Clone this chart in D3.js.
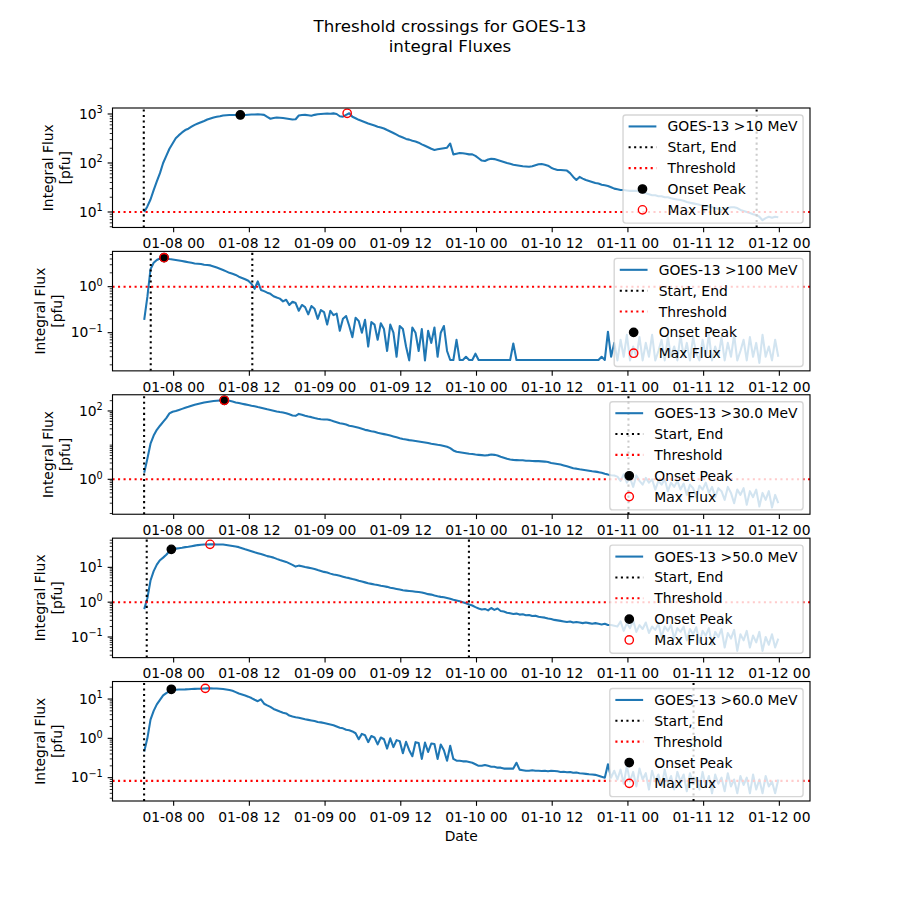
<!DOCTYPE html>
<html><head><meta charset="utf-8">
<script src="https://cdn.jsdelivr.net/npm/d3@7/dist/d3.min.js"></script>
<style>
body{margin:0;background:#fff}
text{font-family:"DejaVu Sans",sans-serif;fill:#000}
</style>
</head><body>
<svg id="c" width="900" height="900"></svg>
<script>
// ---------------- DATA ----------------
const startTime = "2014-01-07T19:20:00Z";   // first sample
const stepMinutes = 30;                     // sample spacing

const flux10 = [10,13,18,28,42,62,100,140,195,250,
320,370,420,470,500,550,600,640,680,720,
770,810,850,880,900,930,945,950,955,950,
955,960,955,965,975,980,985,975,960,870,
800,830,850,840,830,810,790,770,780,930,
950,960,940,920,960,990,1000,1010,1020,1015,
1030,1000,900,880,960,1033,880,820,760,720,
680,640,610,580,550,530,505,470,440,410,
380,350,330,310,300,285,275,260,240,225,
210,195,185,190,195,200,205,250,150,155,
160,158,155,150,150,140,125,112,110,118,
122,120,115,110,105,100,96,92,90,88,
86,85,84,86,90,94,95,92,88,80,
75,72,72,71,70,62,52,45,52,48,
45,43,41,39,38,36,35,34,32,30,
29,28,28,27.5,27,27,27,26,25,24,
23,22,22,21,21,20,20,19,18.5,18,
17.6,17,16,15.5,15,14.5,14,13.5,13,13,
12.5,12,11.5,11,11.5,12,12.5,12.5,12,11,
10.5,10,9.5,9,8.7,8,6.8,7.5,8,7.6,
8,7.8];

const flux100 = [0.19,0.6,2.4,3.3,3.8,4.1,4.3,4.2,4.0,3.9,
3.8,3.7,3.6,3.5,3.4,3.3,3.2,3.15,3.1,3.0,
2.95,2.9,2.75,2.6,2.45,2.3,2.15,2.0,1.9,1.8,
1.65,1.55,1.45,1.35,1.15,0.9,1.3,0.85,0.8,0.74,
0.7,0.62,0.58,0.55,0.48,0.52,0.4,0.47,0.44,0.3,
0.4,0.36,0.25,0.38,0.33,0.2,0.31,0.28,0.15,0.3,
0.24,0.26,0.11,0.2,0.23,0.14,0.08,0.21,0.18,0.1,
0.19,0.05,0.17,0.15,0.07,0.16,0.12,0.04,0.15,0.1,
0.03,0.14,0.12,0.05,0.025,0.13,0.1,0.04,0.12,0.025,
0.11,0.06,0.13,0.03,0.1,0.14,0.04,0.0255,0.0255,0.07,
0.0255,0.0255,0.03,0.0255,0.0255,0.035,0.0255,0.0255,0.0255,0.0255,
0.0255,0.0255,0.0255,0.0255,0.0255,0.0255,0.0255,0.058,0.0255,0.0255,
0.0255,0.0255,0.0255,0.0255,0.0255,0.0255,0.0255,0.0255,0.0255,0.0255,
0.0255,0.0255,0.0255,0.0255,0.0255,0.0255,0.0255,0.0255,0.0255,0.0255,
0.0255,0.0255,0.0255,0.0255,0.0255,0.03,0.0255,0.105,0.03,0.06,
0.025,0.07,0.03,0.09,0.025,0.05,0.03,0.08,0.025,0.06,
0.03,0.09,0.025,0.04,0.07,0.025,0.08,0.03,0.05,0.025,
0.09,0.03,0.06,0.025,0.08,0.035,0.025,0.07,0.03,0.09,
0.025,0.05,0.03,0.08,0.025,0.06,0.03,0.09,0.025,0.04,
0.07,0.025,0.08,0.03,0.06,0.022,0.09,0.03,0.05,0.025,
0.07,0.03];

const flux30 = [1.55,4.0,11,19,28,37,48,62,85,95,
100,107,115,124,132,142,152,160,168,177,
184,190,196,200,203,205,204,198,188,178,
170,163,156,150,143,137,130,124,118,112,
107,102,97,93,90,86,80,74,72,82,
78,73,69,66,62,59,57,56,56,54,
50,47,44,42,40,37,35.5,34,32,30,
28,27,25.5,24.5,23,22,21,20,19,18,
17,16,15.2,14.6,14,13.6,13.2,12.8,12.4,12,
11.5,11,10.6,10.2,9.9,9.5,9.0,8.2,7.0,6.4,
6.2,6.0,5.8,5.6,5.5,5.3,5.2,5.1,5.0,5.1,
5.3,5.2,5.0,4.6,4.3,4.0,3.8,3.7,3.65,3.6,
3.6,3.5,3.5,3.45,3.4,3.4,3.35,3.3,3.2,3.0,
2.9,2.8,2.7,2.55,2.4,2.25,2.1,2.05,1.96,1.9,
1.85,1.78,1.72,1.68,1.62,1.55,1.45,1.38,1.32,1.3,
1.2,0.9,1.4,0.8,1.1,0.6,1.3,0.9,0.7,1.1,
0.8,1.0,0.5,0.9,0.7,1.0,0.45,0.8,0.6,0.9,
0.5,0.75,0.35,0.7,0.55,0.3,0.65,0.5,0.8,0.4,
0.6,0.3,0.55,0.45,0.25,0.6,0.4,0.2,0.5,0.35,
0.55,0.18,0.45,0.3,0.5,0.16,0.4,0.25,0.45,0.15,
0.35,0.2];

const flux50 = [0.63,1.3,4.2,7.8,12,16,19,23,29,33,
34.5,35.5,36.5,38,39,40.5,42,43.5,44.5,45,
45.5,45.8,45.6,45.5,45.3,45,44,42.5,41,39.5,
38,35.5,33,31,29,27,25.5,24,22.5,21,
20,19,17.5,16.3,15.3,14.3,13,11.8,10.5,11.2,
10.8,10.2,9.8,9.4,9.0,8.4,7.9,7.4,7.1,6.6,
6.2,6.0,5.7,5.4,5.1,4.9,4.6,4.4,4.1,3.9,
3.7,3.5,3.35,3.2,3.1,2.95,2.85,2.75,2.6,2.5,
2.4,2.3,2.2,2.15,2.1,2.05,2.0,1.95,1.9,1.8,
1.7,1.65,1.55,1.48,1.42,1.38,1.32,1.25,1.18,1.12,
1.06,1.0,0.93,0.86,0.8,0.72,0.66,0.62,0.64,0.58,
0.68,0.6,0.66,0.56,0.54,0.5,0.48,0.46,0.47,0.44,
0.45,0.42,0.43,0.4,0.41,0.38,0.37,0.36,0.34,0.33,
0.31,0.3,0.29,0.28,0.27,0.28,0.26,0.27,0.26,0.25,
0.26,0.25,0.24,0.25,0.24,0.23,0.24,0.22,0.22,0.21,
0.2,0.28,0.15,0.25,0.18,0.3,0.14,0.22,0.17,0.26,
0.13,0.2,0.16,0.24,0.1,0.2,0.15,0.22,0.09,0.18,
0.14,0.2,0.08,0.17,0.12,0.19,0.07,0.15,0.11,0.18,
0.06,0.14,0.1,0.17,0.05,0.13,0.09,0.16,0.04,0.12,
0.08,0.15,0.05,0.11,0.07,0.14,0.04,0.1,0.06,0.12,
0.05,0.09];

const flux60 = [0.46,1.0,3.0,5.0,7.3,9.5,12.4,14.2,16,17,
17.2,17.4,17.5,17.6,17.8,18,18.1,18.2,18.3,18.5,
18.7,18.7,18.6,18.5,18.3,18.0,17.5,17.0,16.2,15,
13.8,13,12.3,11.5,10.6,9.6,8.8,9.8,7.6,6.9,
6.3,5.6,5.2,4.8,4.5,4.3,3.8,3.6,3.45,3.35,
3.2,3.05,2.95,2.85,2.75,2.6,2.55,2.45,2.35,2.25,
2.15,2.0,1.86,1.8,1.65,1.6,1.5,1.35,0.95,1.3,
1.2,0.8,1.15,1.05,0.7,1.05,0.95,0.55,1.0,0.6,
0.9,0.85,0.42,0.82,0.5,0.35,0.8,0.76,0.3,0.78,
0.45,0.74,0.72,0.3,0.7,0.5,0.27,0.65,0.3,0.27,
0.27,0.26,0.26,0.25,0.24,0.22,0.2,0.2,0.21,0.2,
0.19,0.19,0.18,0.18,0.17,0.17,0.17,0.17,0.24,0.16,
0.155,0.15,0.15,0.155,0.15,0.15,0.148,0.15,0.145,0.15,
0.148,0.145,0.14,0.142,0.138,0.14,0.133,0.135,0.13,0.128,
0.125,0.122,0.12,0.118,0.112,0.105,0.1,0.22,0.1,0.15,
0.09,0.16,0.07,0.2,0.08,0.14,0.06,0.17,0.09,0.13,
0.05,0.15,0.08,0.12,0.06,0.16,0.07,0.11,0.05,0.14,
0.08,0.12,0.045,0.13,0.07,0.1,0.05,0.14,0.06,0.11,
0.04,0.12,0.07,0.1,0.045,0.13,0.06,0.09,0.04,0.11,
0.065,0.1,0.04,0.12,0.05,0.09,0.04,0.11,0.06,0.08,
0.04,0.09];

const seriesLabels = ["GOES-13 >10 MeV","GOES-13 >100 MeV","GOES-13 >30.0 MeV","GOES-13 >50.0 MeV","GOES-13 >60.0 MeV"];
const seriesValues = [flux10, flux100, flux30, flux50, flux60];
const thresholds = [10, 1, 1, 1, 0.083];
const eventStart = ["2014-01-07T19:16Z","2014-01-07T20:22Z","2014-01-07T19:19Z","2014-01-07T19:44Z","2014-01-07T19:19Z"];
const eventEnd   = ["2014-01-11T20:24Z","2014-01-08T12:28Z","2014-01-11T00:05Z","2014-01-09T22:48Z","2014-01-11T10:24Z"];
const onsetTime  = ["2014-01-08T10:34Z","2014-01-07T22:29Z","2014-01-08T08:02Z","2014-01-07T23:38Z","2014-01-07T23:38Z"];
const onsetFlux  = [955, 4.27, 205, 32.9, 17.7];
const maxTime    = ["2014-01-09T03:30Z","2014-01-07T22:29Z","2014-01-08T08:02Z","2014-01-08T05:46Z","2014-01-08T05:01Z"];
const maxFlux    = [1033, 4.27, 205, 45.8, 18.7];
const yDomains   = [[4.83,1325],[0.0148,5.85],[0.095,298],[0.0256,68.9],[0.0255,27.9]];
const yMajorTicks= [[1e1,1e2,1e3],[1e-1,1e0],[1e0,1e2],[1e-1,1e0,1e1],[1e-1,1e0,1e1]];
const legendLabels = ["Start, End","Threshold","Onset Peak","Max Flux"];
const titleLines = ["Threshold crossings for GOES-13","integral Fluxes"];

// ---------------- LAYOUT ----------------
const svg = d3.select("#c");
const L = 112.5, R = 810, T = 108, axH = 119.48, gap = 23.9;
const fs = 13.89;
const blue = "#1f77b4";
const dotted = "2.08,3.44";

const t0 = Date.parse(startTime);
const nMax = d3.max(seriesValues, s => s.length);
const tEnd = t0 + (nMax - 1) * stepMinutes * 60000;
const span = tEnd - t0;
const x = d3.scaleUtc().domain([new Date(t0 - 0.05*span), new Date(tEnd + 0.05*span)]).range([L, R]);
const fmt = d3.utcFormat("%m-%d %H");
const xTicks = x.ticks(d3.utcHour.every(12));

const meas = svg.append("text").attr("font-size", fs).attr("x", -1000).attr("y", -1000);
function textW(s, size) { meas.attr("font-size", size || fs).text(s); return meas.node().getComputedTextLength(); }

titleLines.forEach((s, k) => {
  svg.append("text").attr("x", 450).attr("y", 32 + k*20).attr("text-anchor","middle")
     .attr("font-size", 16.67).text(s);
});

function supText(v) {
  const e = Math.round(Math.log10(v));
  return String(e).replace("-", "\u2212");
}

seriesValues.forEach((vals, p) => {
  const y0 = T + p*(axH + gap), y1 = y0 + axH;
  const y = d3.scaleLog().domain(yDomains[p]).range([y1, y0]);
  const g = svg.append("g");
  const clipId = "clip" + p;
  svg.append("clipPath").attr("id", clipId).append("rect")
     .attr("x", L).attr("y", y0).attr("width", R - L).attr("height", axH);
  const plot = g.append("g").attr("clip-path", `url(#${clipId})`);

  const pts = vals.map((v, i) => ({t: new Date(t0 + i*stepMinutes*60000), v}));
  plot.append("path").datum(pts)
    .attr("d", d3.line().x(d => x(d.t)).y(d => y(d.v)))
    .attr("fill","none").attr("stroke", blue).attr("stroke-width", 2.08)
    .attr("stroke-linejoin","round");

  [eventStart[p], eventEnd[p]].forEach(s => {
    const xv = x(new Date(s));
    plot.append("line").attr("x1", xv).attr("x2", xv).attr("y1", y1).attr("y2", y0)
      .attr("stroke","#000").attr("stroke-width",2.08).attr("stroke-dasharray", dotted);
  });
  plot.append("line").attr("x1", L).attr("x2", R)
      .attr("y1", y(thresholds[p])).attr("y2", y(thresholds[p]))
      .attr("stroke","#ff0000").attr("stroke-width",2.08).attr("stroke-dasharray", dotted);

  plot.append("circle").attr("cx", x(new Date(onsetTime[p]))).attr("cy", y(onsetFlux[p]))
      .attr("r", 4.17).attr("fill","#000").attr("stroke","#000").attr("stroke-width",1.39);
  plot.append("circle").attr("cx", x(new Date(maxTime[p]))).attr("cy", y(maxFlux[p]))
      .attr("r", 4.17).attr("fill","none").attr("stroke","#ff0000").attr("stroke-width",1.39);

  xTicks.forEach(d => {
    const xv = x(d);
    g.append("line").attr("x1", xv).attr("x2", xv).attr("y1", y1).attr("y2", y1 + 4.86)
      .attr("stroke","#000").attr("stroke-width",1.11);
    g.append("text").attr("x", xv).attr("y", y1 + 20.7).attr("text-anchor","middle")
      .attr("font-size", fs).text(fmt(d));
  });

  const [dmin, dmax] = yDomains[p];
  for (let k = Math.floor(Math.log10(dmin)); k <= Math.ceil(Math.log10(dmax)); k++) {
    for (let m = 1; m <= 9; m++) {
      const v = m * Math.pow(10, k);
      if (v < dmin || v > dmax) continue;
      if (m === 1 && yMajorTicks[p].some(t => Math.abs(Math.log10(t) - k) < 1e-9)) continue;
      const yv = y(v);
      g.append("line").attr("x1", L).attr("x2", L - 2.78).attr("y1", yv).attr("y2", yv)
        .attr("stroke","#000").attr("stroke-width",0.83);
    }
  }
  let minLeft = Infinity;
  yMajorTicks[p].forEach(v => {
    const yv = y(v);
    g.append("line").attr("x1", L).attr("x2", L - 4.86).attr("y1", yv).attr("y2", yv)
      .attr("stroke","#000").attr("stroke-width",1.11);
    const t = g.append("text").attr("x", L - 9.72).attr("y", yv + 4.6)
      .attr("text-anchor","end").attr("font-size", fs);
    t.append("tspan").text("10");
    t.append("tspan").attr("dy", -5.4).attr("font-size", 9.72).text(supText(v));
    const w = textW("10") + textW(supText(v), 9.72);
    minLeft = Math.min(minLeft, L - 9.72 - w);
  });

  const right = minLeft - 5.56;
  const b2 = right - 3.3, b1 = b2 - 16.67;
  const yc = (y0 + y1) / 2;
  g.append("text").attr("transform", `translate(${b1},${yc}) rotate(-90)`)
    .attr("text-anchor","middle").attr("font-size", fs).text("Integral Flux");
  g.append("text").attr("transform", `translate(${b2},${yc}) rotate(-90)`)
    .attr("text-anchor","middle").attr("font-size", fs).text("[pfu]");

  g.append("rect").attr("x", L).attr("y", y0).attr("width", R - L).attr("height", axH)
    .attr("fill","none").attr("stroke","#000").attr("stroke-width",1.11);

  const labels = [seriesLabels[p]].concat(legendLabels);
  const maxW = d3.max(labels, s => textW(s));
  const bw = 5.56 + 27.78 + 11.11 + maxW + 5.56;
  const bh = 108.2;
  const bx = R - 6.94 - bw, by = y0 + 6.94;
  const lg = g.append("g");
  lg.append("rect").attr("x", bx).attr("y", by).attr("width", bw).attr("height", bh)
    .attr("rx", 2.78).attr("fill","#fff").attr("fill-opacity",0.8)
    .attr("stroke","#cccccc").attr("stroke-opacity",0.8).attr("stroke-width",1.39);
  const hx0 = bx + 5.56, hx1 = hx0 + 27.78, hxc = (hx0 + hx1)/2, tx = hx1 + 11.11;
  labels.forEach((s, k) => {
    const cy = by + 11.5 + k*20.85;
    if (k === 0) lg.append("line").attr("x1",hx0).attr("x2",hx1).attr("y1",cy).attr("y2",cy)
        .attr("stroke",blue).attr("stroke-width",2.08);
    if (k === 1 || k === 2) lg.append("line").attr("x1",hx0).attr("x2",hx1).attr("y1",cy).attr("y2",cy)
        .attr("stroke", k === 1 ? "#000" : "#ff0000").attr("stroke-width",2.08).attr("stroke-dasharray",dotted);
    if (k === 3) lg.append("circle").attr("cx",hxc).attr("cy",cy).attr("r",4.17)
        .attr("fill","#000").attr("stroke","#000").attr("stroke-width",1.39);
    if (k === 4) lg.append("circle").attr("cx",hxc).attr("cy",cy).attr("r",4.17)
        .attr("fill","none").attr("stroke","#ff0000").attr("stroke-width",1.39);
    lg.append("text").attr("x", tx).attr("y", cy + 5).attr("font-size", fs).text(s);
  });
});

svg.append("text").attr("x", (L + R)/2).attr("y", 841).attr("text-anchor","middle")
   .attr("font-size", fs).text("Date");
meas.remove();
</script>
</body></html>
